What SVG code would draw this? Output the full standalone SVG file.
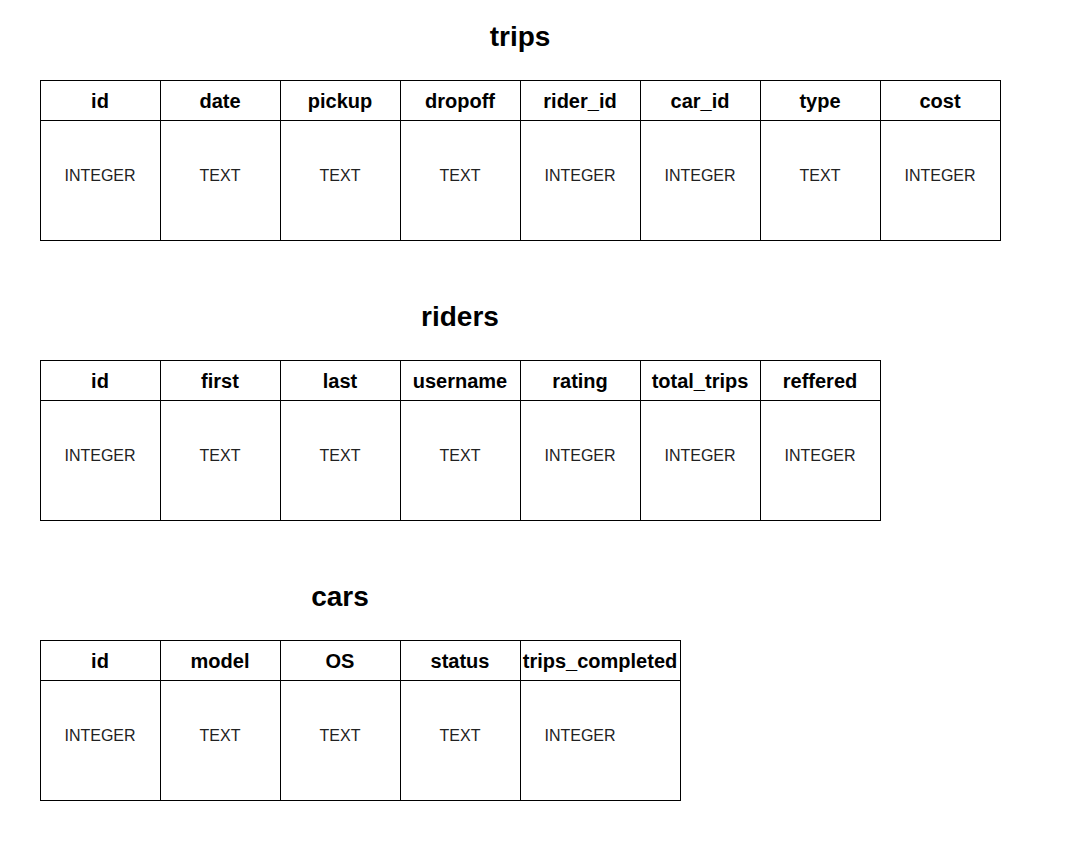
<svg xmlns="http://www.w3.org/2000/svg" width="1070" height="860" viewBox="0 0 1070 860">
<style>
.cell{fill:#ffffff;stroke:#000000;stroke-width:1}
.title{font-family:"Liberation Sans",Arial,sans-serif;font-size:28px;font-weight:bold;text-anchor:middle;fill:#000}
.hd{font-family:"Liberation Sans",Arial,sans-serif;font-size:20px;font-weight:bold;text-anchor:middle;fill:#000}
.ty{font-family:"Liberation Sans",Arial,sans-serif;font-size:16px;text-anchor:middle;fill:#222}
</style>
<rect width="1070" height="860" fill="#ffffff"/>
<g id="trips">
<text class="title" x="520" y="46">trips</text>
<rect class="cell" x="40.5" y="80.5" width="120" height="40"/><rect class="cell" x="40.5" y="120.5" width="120" height="120"/>
<text class="hd" x="100" y="108">id</text><text class="ty" x="100" y="181">INTEGER</text>
<rect class="cell" x="160.5" y="80.5" width="120" height="40"/><rect class="cell" x="160.5" y="120.5" width="120" height="120"/>
<text class="hd" x="220" y="108">date</text><text class="ty" x="220" y="181">TEXT</text>
<rect class="cell" x="280.5" y="80.5" width="120" height="40"/><rect class="cell" x="280.5" y="120.5" width="120" height="120"/>
<text class="hd" x="340" y="108">pickup</text><text class="ty" x="340" y="181">TEXT</text>
<rect class="cell" x="400.5" y="80.5" width="120" height="40"/><rect class="cell" x="400.5" y="120.5" width="120" height="120"/>
<text class="hd" x="460" y="108">dropoff</text><text class="ty" x="460" y="181">TEXT</text>
<rect class="cell" x="520.5" y="80.5" width="120" height="40"/><rect class="cell" x="520.5" y="120.5" width="120" height="120"/>
<text class="hd" x="580" y="108">rider_id</text><text class="ty" x="580" y="181">INTEGER</text>
<rect class="cell" x="640.5" y="80.5" width="120" height="40"/><rect class="cell" x="640.5" y="120.5" width="120" height="120"/>
<text class="hd" x="700" y="108">car_id</text><text class="ty" x="700" y="181">INTEGER</text>
<rect class="cell" x="760.5" y="80.5" width="120" height="40"/><rect class="cell" x="760.5" y="120.5" width="120" height="120"/>
<text class="hd" x="820" y="108">type</text><text class="ty" x="820" y="181">TEXT</text>
<rect class="cell" x="880.5" y="80.5" width="120" height="40"/><rect class="cell" x="880.5" y="120.5" width="120" height="120"/>
<text class="hd" x="940" y="108">cost</text><text class="ty" x="940" y="181">INTEGER</text>
</g>
<g id="riders">
<text class="title" x="460" y="326">riders</text>
<rect class="cell" x="40.5" y="360.5" width="120" height="40"/><rect class="cell" x="40.5" y="400.5" width="120" height="120"/>
<text class="hd" x="100" y="388">id</text><text class="ty" x="100" y="461">INTEGER</text>
<rect class="cell" x="160.5" y="360.5" width="120" height="40"/><rect class="cell" x="160.5" y="400.5" width="120" height="120"/>
<text class="hd" x="220" y="388">first</text><text class="ty" x="220" y="461">TEXT</text>
<rect class="cell" x="280.5" y="360.5" width="120" height="40"/><rect class="cell" x="280.5" y="400.5" width="120" height="120"/>
<text class="hd" x="340" y="388">last</text><text class="ty" x="340" y="461">TEXT</text>
<rect class="cell" x="400.5" y="360.5" width="120" height="40"/><rect class="cell" x="400.5" y="400.5" width="120" height="120"/>
<text class="hd" x="460" y="388">username</text><text class="ty" x="460" y="461">TEXT</text>
<rect class="cell" x="520.5" y="360.5" width="120" height="40"/><rect class="cell" x="520.5" y="400.5" width="120" height="120"/>
<text class="hd" x="580" y="388">rating</text><text class="ty" x="580" y="461">INTEGER</text>
<rect class="cell" x="640.5" y="360.5" width="120" height="40"/><rect class="cell" x="640.5" y="400.5" width="120" height="120"/>
<text class="hd" x="700" y="388">total_trips</text><text class="ty" x="700" y="461">INTEGER</text>
<rect class="cell" x="760.5" y="360.5" width="120" height="40"/><rect class="cell" x="760.5" y="400.5" width="120" height="120"/>
<text class="hd" x="820" y="388">reffered</text><text class="ty" x="820" y="461">INTEGER</text>
</g>
<g id="cars">
<text class="title" x="340" y="606">cars</text>
<rect class="cell" x="40.5" y="640.5" width="120" height="40"/><rect class="cell" x="40.5" y="680.5" width="120" height="120"/>
<text class="hd" x="100" y="668">id</text><text class="ty" x="100" y="741">INTEGER</text>
<rect class="cell" x="160.5" y="640.5" width="120" height="40"/><rect class="cell" x="160.5" y="680.5" width="120" height="120"/>
<text class="hd" x="220" y="668">model</text><text class="ty" x="220" y="741">TEXT</text>
<rect class="cell" x="280.5" y="640.5" width="120" height="40"/><rect class="cell" x="280.5" y="680.5" width="120" height="120"/>
<text class="hd" x="340" y="668">OS</text><text class="ty" x="340" y="741">TEXT</text>
<rect class="cell" x="400.5" y="640.5" width="120" height="40"/><rect class="cell" x="400.5" y="680.5" width="120" height="120"/>
<text class="hd" x="460" y="668">status</text><text class="ty" x="460" y="741">TEXT</text>
<rect class="cell" x="520.5" y="640.5" width="160" height="40"/><rect class="cell" x="520.5" y="680.5" width="160" height="120"/>
<text class="hd" x="600" y="668">trips_completed</text><text class="ty" x="580" y="741">INTEGER</text>
</g>
<g id="connectors"></g>
</svg>
